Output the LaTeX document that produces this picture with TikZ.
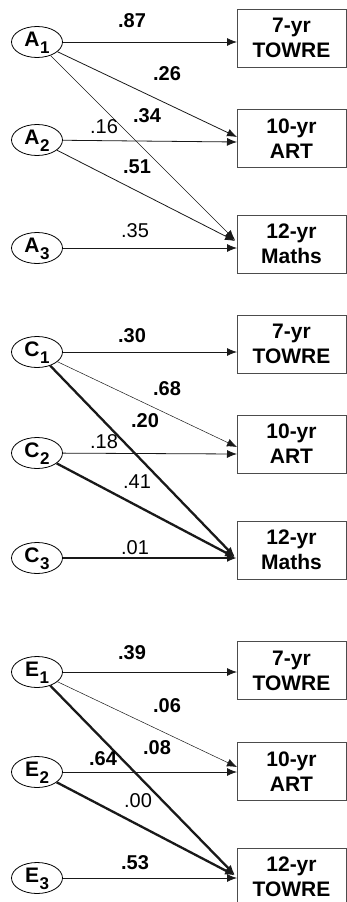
\documentclass[tikz,border=0pt]{standalone}
\usepackage{fontspec}
\setmainfont{Liberation Sans}
\usetikzlibrary{arrows.meta,shapes.geometric}
\newcommand{\lv}[2]{#1\kern0.5pt\raisebox{-7.5pt}{\fontsize{17}{17}\selectfont #2}}
\begin{document}
\begin{tikzpicture}[x=1pt,y=-1pt,
  lat/.style={draw,ellipse,minimum width=51pt,minimum height=31pt,inner sep=0pt,line width=0.8pt,text height=14pt,text depth=6pt,font=\fontsize{21}{21}\selectfont\bfseries},
  obs/.style={draw=black!70,line width=0.8pt,minimum width=109pt,minimum height=58pt,inner sep=0pt,align=center,font=\fontsize{21}{25}\selectfont\bfseries},
  arr/.style={-{Latex[length=10pt,width=8pt]},line width=0.8pt,draw=black!90},
  pthin/.style={arr,line width=0.5pt},
  pthick/.style={arr,line width=2.3pt},
  lb/.style={inner sep=0pt,font=\fontsize{20}{20}\selectfont\bfseries},
  ln/.style={inner sep=0pt,font=\fontsize{20}{20}\selectfont}
]
\useasboundingbox (0,0) rectangle (347,902);
\begin{scope}
\clip (0,0) rectangle (347,902);
% ---------- Panel A ----------
\node[lat] (a1) at (37,42) {\lv{A}{1}};
\node[lat] (a2) at (37,140) {\lv{A}{2}};
\node[lat] (a3) at (37,248) {\lv{A}{3}};
\node[obs] (ta) at (291.5,38) {7-yr\\TOWRE};
\node[obs] (aa) at (291.5,138.5) {10-yr\\ART};
\node[obs] (ma) at (291.5,244) {12-yr\\Maths};
\coordinate (ta1) at (237,42);
\coordinate (aa1) at (237,137);
\coordinate (aa2) at (237,142);
\coordinate (ma1) at (235,240);
\coordinate (ma2) at (235,241);
\coordinate (ma3) at (237,248);
\draw[arr] (a1) -- (ta1);
\draw[arr] (a1) -- (aa1);
\draw[pthin] (a1) -- (ma1);
\draw[arr] (a2) -- (aa2);
\draw[arr] (a2) -- (ma2);
\draw[arr] (a3) -- (ma3);
\node[lb] (la87) at (132,21) {.87};
\node[lb] (la26) at (167,74) {.26};
\node[lb] (la34) at (147,116) {.34};
\node[ln] (la16) at (104,127) {.16};
\node[lb] (la51) at (137,167) {.51};
\node[ln] (la35) at (135,231) {.35};
% ---------- Panel C ----------
\node[lat] (c1) at (37,352) {\lv{C}{1}};
\node[lat] (c2) at (37,453) {\lv{C}{2}};
\node[lat] (c3) at (37,558) {\lv{C}{3}};
\node[obs] (tc) at (291.5,344) {7-yr\\TOWRE};
\node[obs] (ac) at (291.5,444) {10-yr\\ART};
\node[obs] (mc) at (291.5,550) {12-yr\\Maths};
\coordinate (tc1) at (237,352);
\coordinate (ac1) at (237,447);
\coordinate (ac2) at (237,454);
\coordinate (mc1) at (235,557);
\coordinate (mc2) at (235,557.5);
\coordinate (mc3) at (237,558);
\draw[arr] (c1) -- (tc1);
\draw[pthin] (c1) -- (ac1);
\draw[pthick] (c1) -- (mc1);
\draw[arr] (c2) -- (ac2);
\draw[pthick] (c2) -- (mc2);
\draw[pthick] (c3) -- (mc3);
\node[lb] (lc30) at (132,336) {.30};
\node[lb] (lc68) at (167,389) {.68};
\node[lb] (lc20) at (145,421) {.20};
\node[ln] (lc18) at (104,442) {.18};
\node[ln] (lc41) at (137,482) {.41};
\node[ln] (lc01) at (135,548) {.01};
% ---------- Panel E ----------
\node[lat] (e1) at (37,672) {\lv{E}{1}};
\node[lat] (e2) at (37,772) {\lv{E}{2}};
\node[lat] (e3) at (37,878) {\lv{E}{3}};
\node[obs] (te) at (291.5,670.5) {7-yr\\TOWRE};
\node[obs] (ae) at (291.5,771.5) {10-yr\\ART};
\node[obs] (me) at (291.5,877) {12-yr\\TOWRE};
\coordinate (te1) at (237,672);
\coordinate (ae1) at (237,767);
\coordinate (ae2) at (237,772);
\coordinate (me1) at (235,875);
\coordinate (me2) at (235,875.5);
\coordinate (me3) at (237,878);
\draw[arr] (e1) -- (te1);
\draw[pthin] (e1) -- (ae1);
\draw[pthick] (e1) -- (me1);
\draw[arr] (e2) -- (ae2);
\draw[pthick] (e2) -- (me2);
\draw[arr] (e3) -- (me3);
\node[lb] (le39) at (132,653) {.39};
\node[lb] (le06) at (167,706) {.06};
\node[lb] (le08) at (157,748) {.08};
\node[lb] (le64) at (103,759) {.64};
\node[ln] (le00) at (138,801) {.00};
\node[lb] (le53) at (135,863) {.53};
\end{scope}
\end{tikzpicture}
\end{document}
